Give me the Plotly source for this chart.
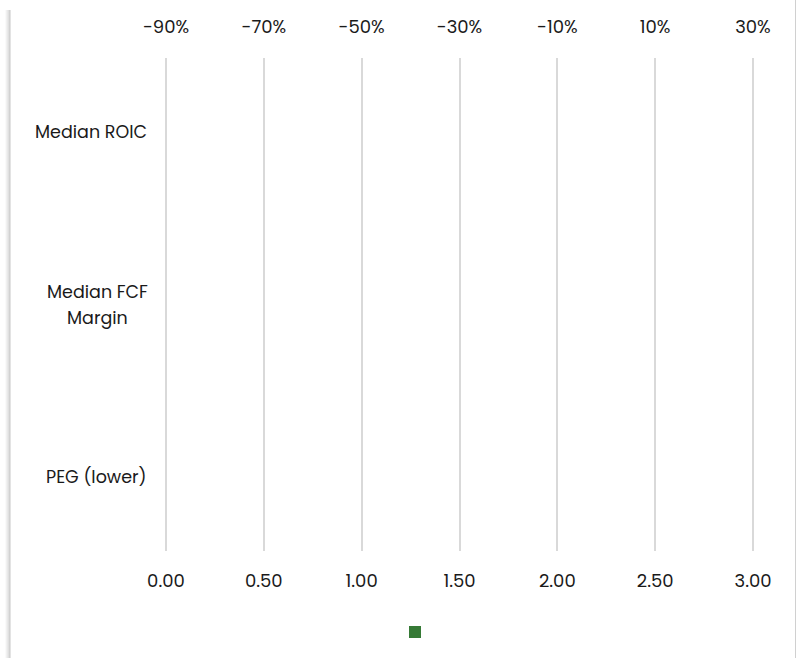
import plotly.graph_objects as go

categories = ["Median ROIC", "Median FCF<br>Margin", "PEG (lower)"]
peg_values = [None, None, None]          # bottom axis series (no visible bars)
pct_values = [None, None, None]          # top axis series (no visible bars)
bottom_ticks = [0, 0.5, 1.0, 1.5, 2.0, 2.5, 3.0]
top_ticks = [-90, -70, -50, -30, -10, 10, 30]

W, H = 796, 658
L, R, T, B = 164, 41, 58, 107
pw, ph = W - L - R, H - T - B

def px_x(p):
    return (p - L) / pw

def px_y(p):
    return (H - B - p) / ph

font = "Poppins, 'Open Sans', sans-serif"
tcolor = "#1a1a1a"

fig = go.Figure()
fig.add_trace(go.Bar(
    y=list(range(len(categories))), x=peg_values, orientation="h",
    name=" ", marker=dict(color="#367a36", line=dict(width=0)),
    xaxis="x", yaxis="y", showlegend=True,
))
fig.add_trace(go.Bar(
    y=list(range(len(categories))), x=pct_values, orientation="h",
    name="pct", marker=dict(color="#367a36", line=dict(width=0)),
    xaxis="x2", yaxis="y", showlegend=False,
))

shapes = []
# card edges
for i, op in enumerate([0.04, 0.07, 0.10, 0.15, 0.22]):
    shapes.append(dict(type="line", xref="paper", yref="paper",
                       x0=px_x(6 + i), x1=px_x(6 + i), y0=px_y(H), y1=px_y(10),
                       line=dict(color=f"rgba(0,0,0,{op})", width=1)))
shapes.append(dict(type="line", xref="paper", yref="paper",
                   x0=px_x(795.5), x1=px_x(795.5), y0=px_y(H), y1=px_y(0),
                   line=dict(color="#d0d0d0", width=1)))

annotations = []
line_gap = 26
label_right = 149
for i, c in enumerate(categories):
    lines = c.split("<br>")
    n = len(lines)
    # widest line sets the centre for centred multi-line labels
    for j, ln in enumerate(lines):
        annotations.append(dict(
            x=px_x(label_right) if n == 1 else px_x(97.5), xref="paper",
            y=i, yref="y", text=ln, showarrow=False,
            xanchor="right" if n == 1 else "center",
            yshift=((n - 1) / 2 - j) * line_gap,
            font=dict(family=font, size=17.5, color=tcolor),
        ))

fig.update_layout(
    width=W, height=H,
    margin=dict(l=L, r=R, t=T, b=B),
    paper_bgcolor="white", plot_bgcolor="white",
    font=dict(family=font, size=16, color=tcolor),
    xaxis=dict(range=[-0.01, 3.01], tickvals=bottom_ticks,
               ticktext=[f"{v:.2f}" for v in bottom_ticks],
               showgrid=True, gridcolor="#d9d9d9", gridwidth=2,
               zeroline=False, showline=False, ticks="",
               ticklabelstandoff=17, tickfont=dict(size=18, color=tcolor)),
    xaxis2=dict(range=[-90.41, 30.41], tickvals=top_ticks,
                ticktext=[f"{v}%" for v in top_ticks],
                overlaying="x", side="top", showgrid=False, zeroline=False,
                showline=False, ticks="", ticklabelstandoff=20,
                tickfont=dict(size=18, color=tcolor)),
    yaxis=dict(range=[2.43, -0.43], showticklabels=False, showgrid=False,
               zeroline=False, showline=False, ticks=""),
    legend=dict(orientation="h", x=px_x(395), xanchor="left",
                y=px_y(632), yanchor="middle", font=dict(family=font, size=12),
                bgcolor="rgba(0,0,0,0)"),
    shapes=shapes,
    annotations=annotations,
    bargap=0.3,
)

fig.write_html("out.html")
